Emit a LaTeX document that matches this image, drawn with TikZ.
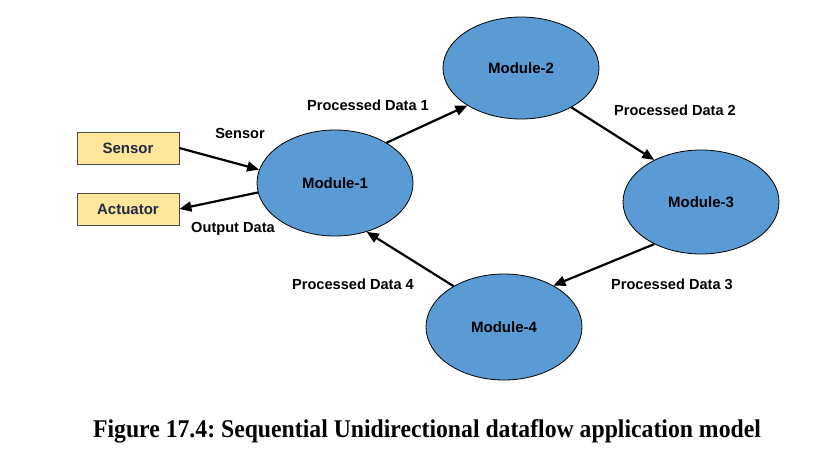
\documentclass[tikz,border=0pt]{standalone}
\usepackage{fontspec}
\setmainfont{Liberation Sans}
\newfontfamily\capfont[FakeStretch=0.93]{Liberation Serif}
\usetikzlibrary{shapes.geometric,arrows.meta}
\definecolor{modblue}{HTML}{5B9BD5}
\definecolor{boxfill}{HTML}{FFE699}
\definecolor{boxtext}{HTML}{1F2A44}
\frenchspacing
\tikzset{
  module/.style={ellipse, draw=black, line width=0.8pt, fill=modblue, minimum width=156pt, minimum height=106pt, inner sep=0pt, font=\fontsize{15}{18}\selectfont\bfseries},
  devbox/.style={rectangle, draw=black!70, line width=0.8pt, fill=boxfill, minimum width=102pt, minimum height=32pt, inner sep=0pt, font=\fontsize{15}{18}\selectfont\bfseries, text=boxtext},
  flow/.style={-{Triangle[length=12pt,width=10pt]}, line width=2.2pt},
  lbl/.style={font=\fontsize{14.6}{17}\selectfont\bfseries, inner sep=0pt}
}
\begin{document}
\begin{tikzpicture}[x=1pt,y=-1pt]
\useasboundingbox (0,0) rectangle (837,456);
\node[module] (m1) at (335,183) {Module-1};
\node[module, minimum height=102pt] (m2) at (521,68) {Module-2};
\node[module, minimum height=104pt] (m3) at (701,202) {Module-3};
\node[module] (m4) at (504,327) {Module-4};
\node[devbox] (sen) at (128,148) {Sensor};
\node[devbox] (act) at (128,209) {Actuator};
\draw[flow] (sen.east) -- (m1.{170});
\draw[flow] (m1.{187}) -- (act.east);
\draw[flow] (m1.{38}) -- (m2.{215});
\draw[flow] (m2.{-38}) -- (m3.{138});
\draw[flow] (m3.{-138}) -- (m4.{40});
\draw[flow] (m4.{141}) -- (m1.{-57});
\node[lbl] (l0) at (240,133) {Sensor};
\node[lbl] (l5) at (233,229) {Output Data};
\node[lbl] (l1) at (368,105) {Processed Data 1};
\node[lbl] (l2) at (675,110) {Processed Data 2};
\node[lbl] (l3) at (672,284) {Processed Data 3};
\node[lbl] (l4) at (353,284) {Processed Data 4};
\node[font=\capfont\bfseries\fontsize{25.5}{28}\selectfont, inner sep=0pt, anchor=base] (cap) at (427,437) {Figure 17.4: Sequential Unidirectional dataflow application model};
\end{tikzpicture}
\end{document}
